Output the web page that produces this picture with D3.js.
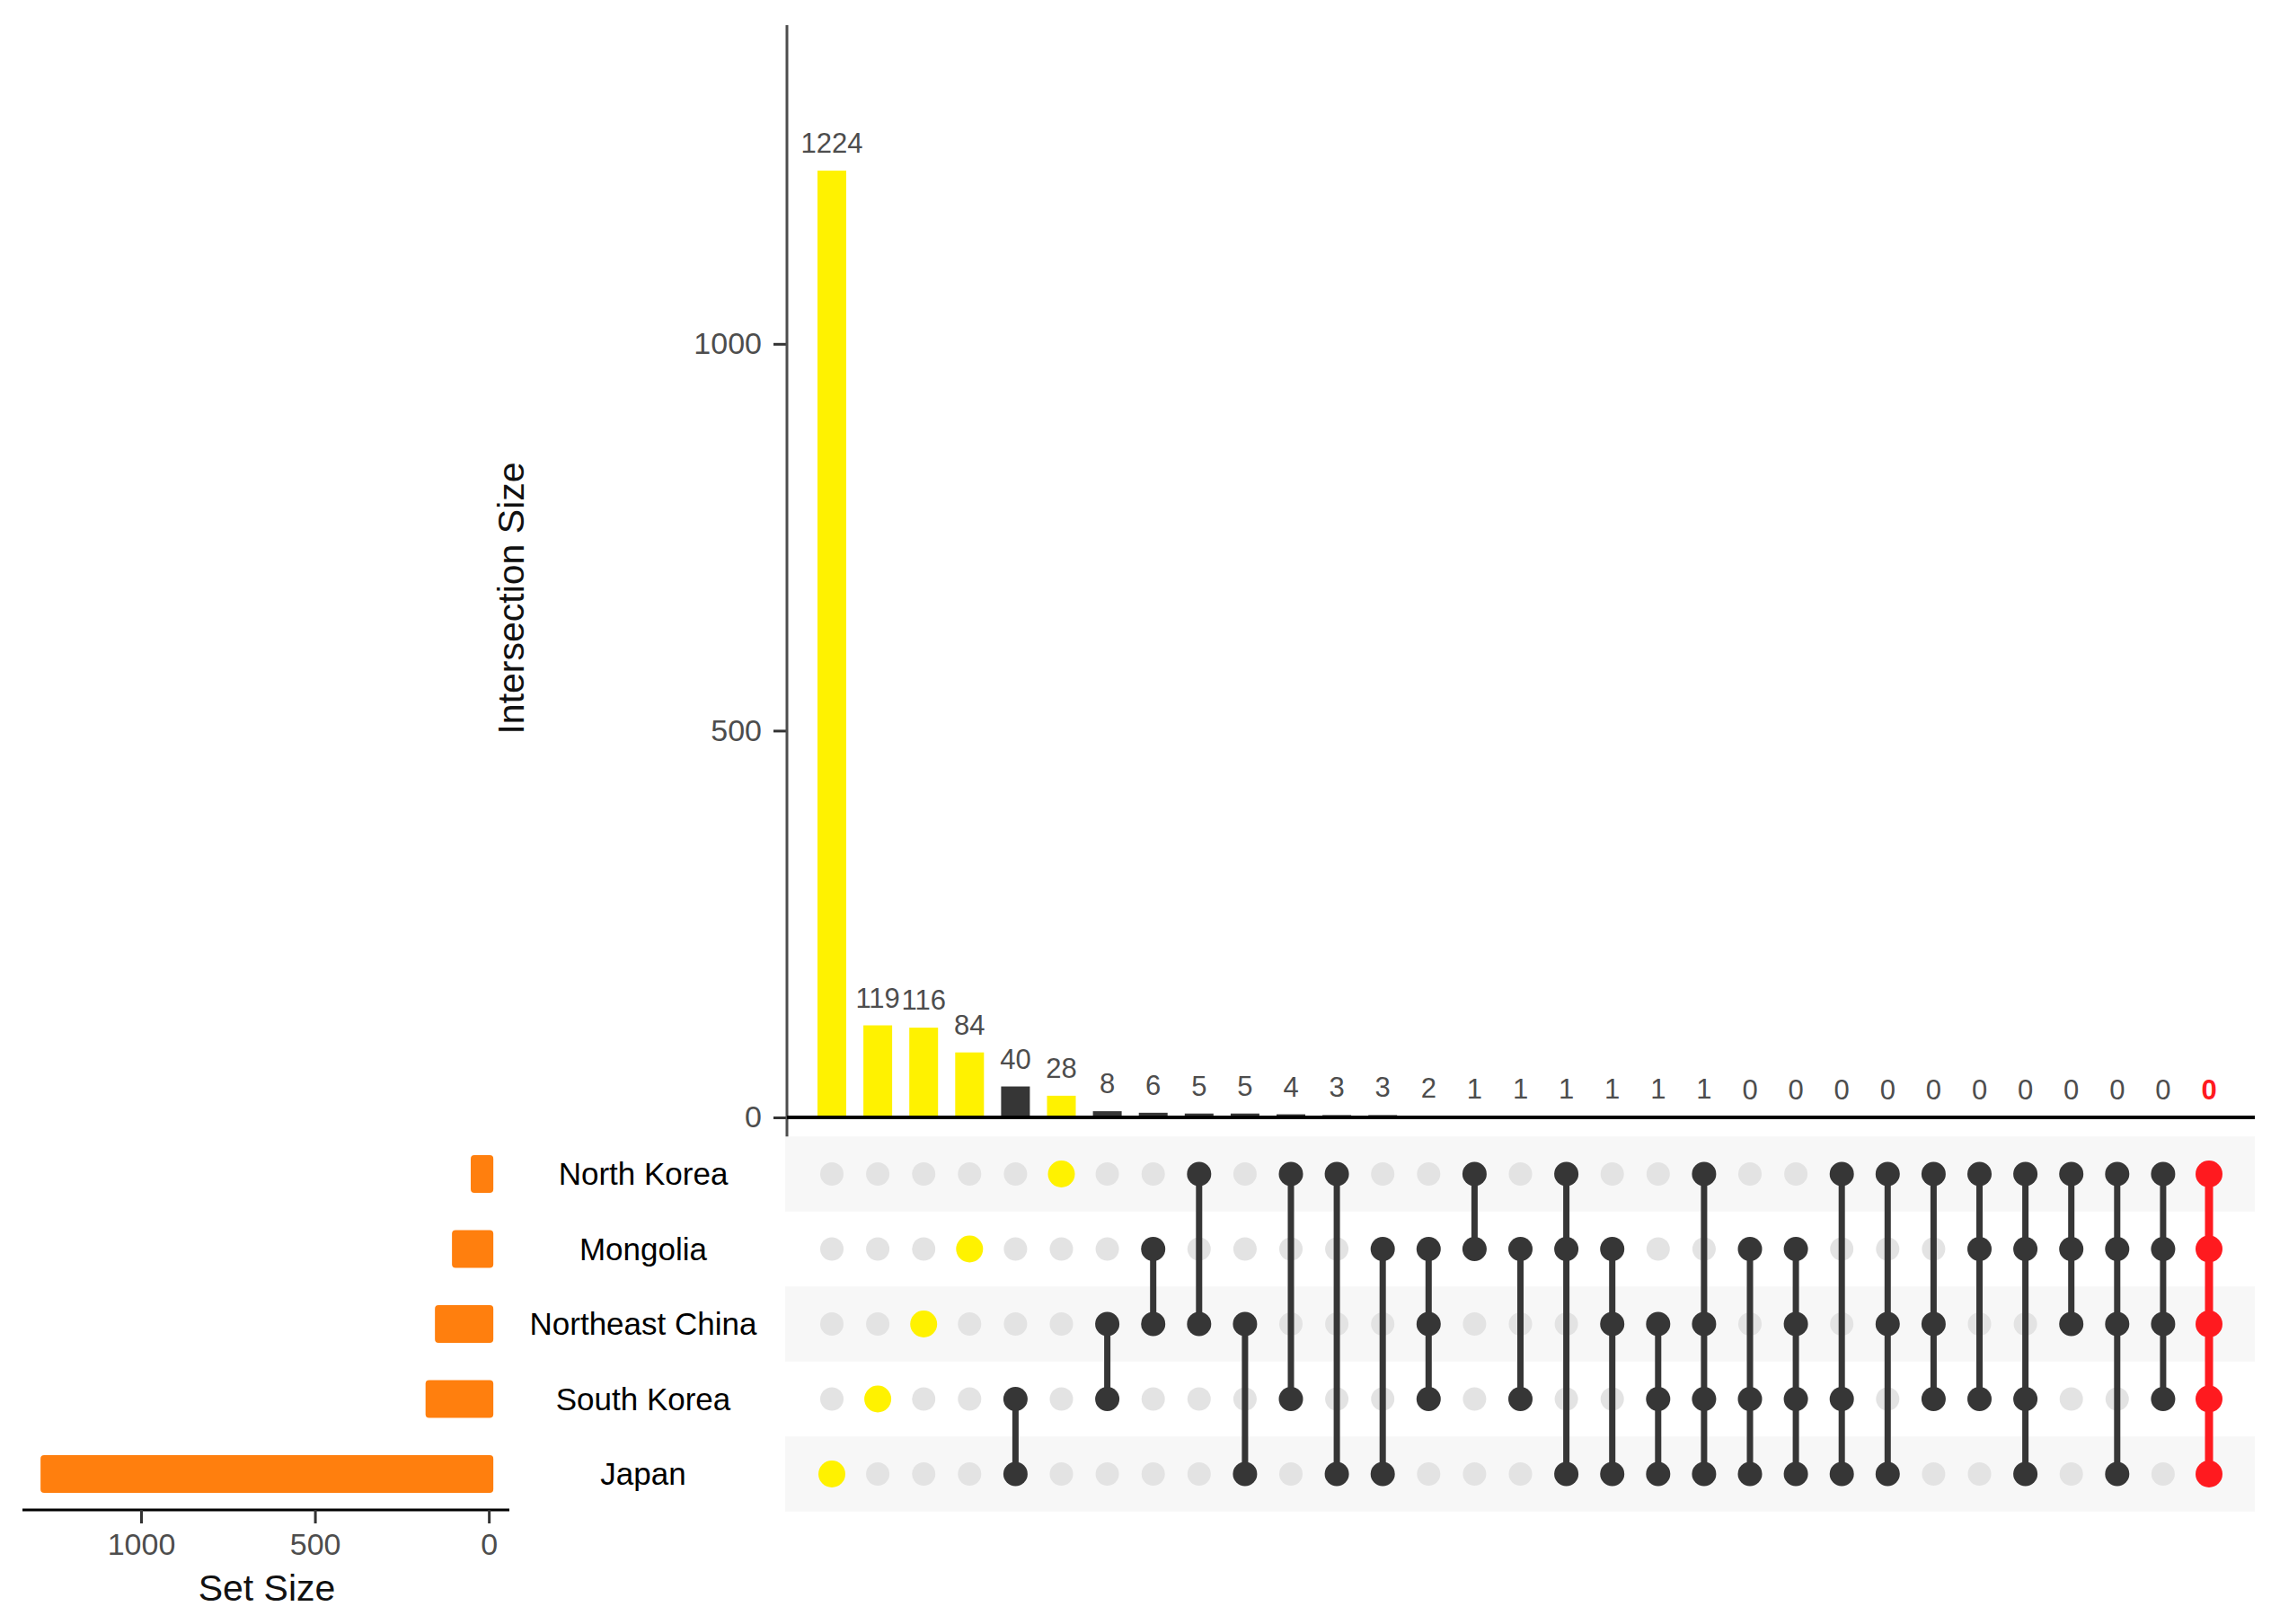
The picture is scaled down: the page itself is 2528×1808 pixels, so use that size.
<!DOCTYPE html>
<html>
<head>
<meta charset="utf-8">
<script src="https://cdn.jsdelivr.net/npm/d3@7"></script>
<style>
  body { margin: 0; background: #fff; }
  svg { display: block; font-family: "Liberation Sans", Arial, sans-serif; }
</style>
</head>
<body>
<svg id="chart"></svg>
<script>
// sets, top to bottom in the matrix
const sets = ["North Korea", "Mongolia", "Northeast China", "South Korea", "Japan"];
const setSizes = [52, 106, 155, 182, 1289];

// intersections, left to right
const intersectionSizes = [1224, 119, 116, 84, 40, 28, 8, 6, 5, 5, 4, 3, 3, 2,
  1, 1, 1, 1, 1, 1, 0, 0, 0, 0, 0, 0, 0, 0, 0, 0, 0];

// members of every intersection (index into sets)
const members = [
  [4], [3], [2], [1], [3, 4], [0], [2, 3], [1, 2], [0, 2], [2, 4],
  [0, 3], [0, 4], [1, 4], [1, 2, 3], [0, 1], [1, 3], [0, 1, 4], [1, 2, 4],
  [2, 3, 4], [0, 2, 3, 4], [1, 3, 4], [1, 2, 3, 4], [0, 3, 4], [0, 2, 4],
  [0, 2, 3], [0, 1, 3], [0, 1, 3, 4], [0, 1, 2], [0, 1, 2, 4], [0, 1, 2, 3],
  [0, 1, 2, 3, 4]
];

// highlighted columns
const yellowCols = [0, 1, 2, 3, 5];
const redCols = [30];

const intersectionTicks = [0, 500, 1000];
const setSizeTicks = [0, 500, 1000];

const W = 2528, H = 1808;
const dark = "#363636", yellow = "#fff200", red = "#ff1a1f", orange = "#ff7f0e";
const tickGrey = "#4d4d4d";

function colColor(i) {
  if (redCols.includes(i)) return red;
  if (yellowCols.includes(i)) return yellow;
  return dark;
}

const svg = d3.select("#chart").attr("width", W).attr("height", H);

// scales
const x = d3.scalePoint().domain(d3.range(intersectionSizes.length)).range([926, 2459]);
const y = d3.scaleLinear().domain([0, 1412]).range([1244, 28]);
const row = d3.scalePoint().domain(d3.range(sets.length)).range([1307, 1641]);
const rowStep = row.step();
const sx = d3.scaleLinear().domain([1341, -59]).range([25, 567]);
const barW = 32;

// ---- intersection size bars ----
const gBars = svg.append("g");
gBars.selectAll("rect")
  .data(intersectionSizes)
  .join("rect")
  .attr("x", (d, i) => x(i) - barW / 2)
  .attr("y", d => y(d))
  .attr("width", barW)
  .attr("height", d => y(0) - y(d))
  .attr("fill", (d, i) => colColor(i));

gBars.selectAll("text")
  .data(intersectionSizes)
  .join("text")
  .attr("x", (d, i) => x(i))
  .attr("y", d => y(d) - 20)
  .attr("text-anchor", "middle")
  .attr("font-size", 31)
  .attr("font-weight", (d, i) => redCols.includes(i) ? "bold" : "normal")
  .attr("fill", (d, i) => redCols.includes(i) ? red : tickGrey)
  .text(d => d);

// y axis
const yAxis = svg.append("g")
  .attr("transform", "translate(876,0)")
  .call(d3.axisLeft(y).tickValues(intersectionTicks).tickFormat(d3.format("d"))
    .tickSize(15).tickPadding(13));
yAxis.select(".domain").remove();
yAxis.selectAll(".tick line").attr("stroke", "#333").attr("stroke-width", 3);
yAxis.selectAll(".tick text").attr("font-size", 34).attr("fill", tickGrey)
  .attr("font-family", "Liberation Sans, Arial, sans-serif");

svg.append("line")
  .attr("x1", 876).attr("x2", 876)
  .attr("y1", y.range()[1]).attr("y2", 1266)
  .attr("stroke", tickGrey).attr("stroke-width", 3);

svg.append("line")
  .attr("x1", 876).attr("x2", 2510)
  .attr("y1", y(0)).attr("y2", y(0))
  .attr("stroke", "#000").attr("stroke-width", 4);

svg.append("text")
  .attr("transform", "translate(583,666) rotate(-90)")
  .attr("text-anchor", "middle")
  .attr("font-size", 41)
  .attr("fill", "#111")
  .text("Intersection Size");

// ---- matrix ----
const gM = svg.append("g");
gM.selectAll("rect.stripe")
  .data(d3.range(sets.length).filter(i => i % 2 === 0))
  .join("rect")
  .attr("class", "stripe")
  .attr("x", 874)
  .attr("width", 2510 - 874)
  .attr("y", i => row(i) - rowStep / 2)
  .attr("height", rowStep)
  .attr("fill", "#f7f7f7");

// empty dots
const cells = [];
intersectionSizes.forEach((v, c) => {
  sets.forEach((s, r) => cells.push({ c: c, r: r, on: members[c].includes(r) }));
});

gM.selectAll("circle.off")
  .data(cells.filter(d => !d.on))
  .join("circle")
  .attr("class", "off")
  .attr("cx", d => x(d.c))
  .attr("cy", d => row(d.r))
  .attr("r", 13)
  .attr("fill", "#e3e3e3");

// connecting lines
gM.selectAll("line.link")
  .data(members.map((m, c) => ({ c: c, m: m })).filter(d => d.m.length > 1))
  .join("line")
  .attr("class", "link")
  .attr("x1", d => x(d.c)).attr("x2", d => x(d.c))
  .attr("y1", d => row(d3.min(d.m))).attr("y2", d => row(d3.max(d.m)))
  .attr("stroke", d => colColor(d.c))
  .attr("stroke-width", d => redCols.includes(d.c) ? 9 : 7);

gM.selectAll("circle.on")
  .data(cells.filter(d => d.on))
  .join("circle")
  .attr("class", "on")
  .attr("cx", d => x(d.c))
  .attr("cy", d => row(d.r))
  .attr("r", d => colColor(d.c) === dark ? 13.5 : 15)
  .attr("fill", d => colColor(d.c));

// set labels
svg.append("g").selectAll("text")
  .data(sets)
  .join("text")
  .attr("x", 716)
  .attr("y", (d, i) => row(i) + 12)
  .attr("text-anchor", "middle")
  .attr("font-size", 35)
  .attr("fill", "#000")
  .text(d => d);

// ---- set size bars ----
svg.append("g").selectAll("rect")
  .data(setSizes)
  .join("rect")
  .attr("x", d => sx(d))
  .attr("y", (d, i) => row(i) - 21)
  .attr("width", d => sx(0) + 5 - sx(d))
  .attr("height", 42)
  .attr("rx", 4)
  .attr("fill", orange);

const sAxis = svg.append("g")
  .attr("transform", "translate(0,1681)")
  .call(d3.axisBottom(sx).tickValues(setSizeTicks).tickFormat(d3.format("d"))
    .tickSize(15).tickPadding(11));
sAxis.select(".domain").attr("stroke", "#000").attr("stroke-width", 3)
  .attr("d", "M25,0H567");
sAxis.selectAll(".tick line").attr("stroke", "#333").attr("stroke-width", 3);
sAxis.selectAll(".tick text").attr("font-size", 34).attr("fill", tickGrey)
  .attr("font-family", "Liberation Sans, Arial, sans-serif");

svg.append("text")
  .attr("x", 297)
  .attr("y", 1782)
  .attr("text-anchor", "middle")
  .attr("font-size", 41)
  .attr("fill", "#111")
  .text("Set Size");
</script>
</body>
</html>
